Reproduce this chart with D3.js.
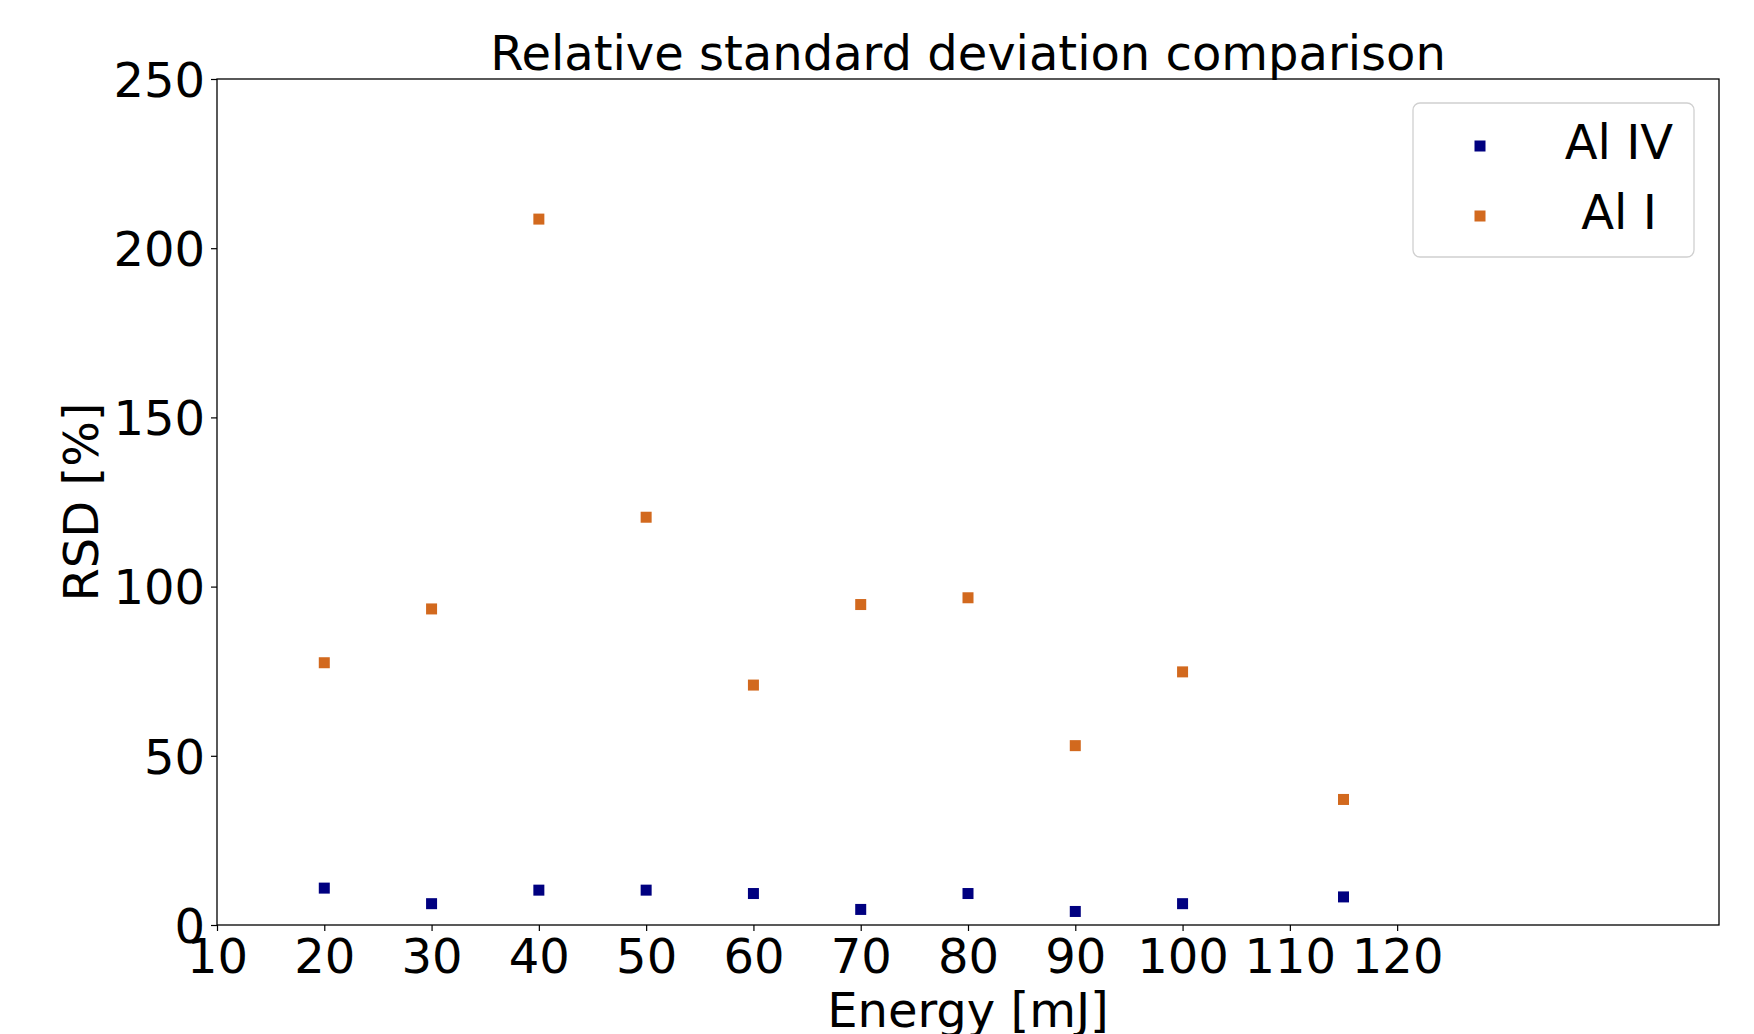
<!DOCTYPE html>
<html><head><meta charset="utf-8">
<script src="https://cdn.jsdelivr.net/npm/d3@7"></script>
<style>html,body{margin:0;padding:0;background:#fff;}svg{display:block;font-family:"DejaVu Sans",sans-serif;}</style>
</head><body>
<script>
const energies = [20, 30, 40, 50, 60, 70, 80, 90, 100, 115];
const alIV = [10.9, 6.3, 10.3, 10.3, 9.3, 4.6, 9.3, 4.0, 6.3, 8.3];
const alI = [77.5, 93.4, 208.6, 120.5, 70.9, 94.7, 96.7, 53.0, 74.8, 37.1];
const xTicks = [10, 20, 30, 40, 50, 60, 70, 80, 90, 100, 110, 120];
const yTicks = [0, 50, 100, 150, 200, 250];
const seriesNames = ["Al IV", "Al I"];
const seriesColors = ["#000080", "#D2691E"];

const W = 1754, H = 1034;
const L = 217, R = 1719, T = 79, B = 925;
const svg = d3.select("body").append("svg").attr("width", W).attr("height", H);
const x = d3.scaleLinear().domain([10, 150]).range([L, R]);
const y = d3.scaleLinear().domain([0, 250]).range([B, T]);
const fs = 48;

const xAxis = svg.append("g").attr("transform", `translate(0,${B})`)
  .call(d3.axisBottom(x).tickValues(xTicks).tickSize(6).tickPadding(6).tickFormat(d3.format("d")));
const yAxis = svg.append("g").attr("transform", `translate(${L},0)`)
  .call(d3.axisLeft(y).tickValues(yTicks).tickSize(6).tickPadding(6).tickFormat(d3.format("d")));
[xAxis, yAxis].forEach(g => {
  g.select(".domain").remove();
  g.selectAll("line").attr("stroke", "#000").attr("stroke-width", 1.2);
  g.selectAll("text").attr("font-size", fs).attr("fill", "#000").attr("font-family", "DejaVu Sans");
});
xAxis.selectAll("text").attr("dy", "0.76em");
yAxis.selectAll("text").attr("dy", "0.36em");

svg.append("rect").attr("x", L).attr("y", T).attr("width", R - L).attr("height", B - T)
  .attr("fill", "none").attr("stroke", "#000").attr("stroke-width", 1.3);

const series = [alIV, alI];
const ms = 11;
series.forEach((vals, i) => {
  svg.append("g").selectAll("rect").data(vals).join("rect")
    .attr("x", (d, j) => x(energies[j]) - ms / 2)
    .attr("y", d => y(d) - ms / 2)
    .attr("width", ms).attr("height", ms)
    .attr("fill", seriesColors[i]);
});

svg.append("text").attr("x", (L + R) / 2).attr("y", 70).attr("text-anchor", "middle")
  .attr("font-size", fs).text("Relative standard deviation comparison");
svg.append("text").attr("x", (L + R) / 2).attr("y", 1027).attr("text-anchor", "middle")
  .attr("font-size", fs).text("Energy [mJ]");
svg.append("text").attr("transform", `translate(98,${(T + B) / 2}) rotate(-90)`).attr("text-anchor", "middle")
  .attr("font-size", fs).text("RSD [%]");

// legend
const lg = svg.append("g");
lg.append("rect").attr("x", 1413).attr("y", 103).attr("width", 281).attr("height", 154)
  .attr("rx", 7).attr("fill", "#fff").attr("fill-opacity", 0.8).attr("stroke", "#d0d0d0").attr("stroke-width", 1.3);
seriesNames.forEach((n, i) => {
  const cy = 146 + i * 70;
  lg.append("rect").attr("x", 1480 - ms / 2).attr("y", cy - ms / 2).attr("width", ms).attr("height", ms).attr("fill", seriesColors[i]);
  lg.append("text").attr("x", 1619).attr("y", cy + 13).attr("text-anchor", "middle")
    .attr("font-size", fs).text(n);
});
</script>
</body></html>
